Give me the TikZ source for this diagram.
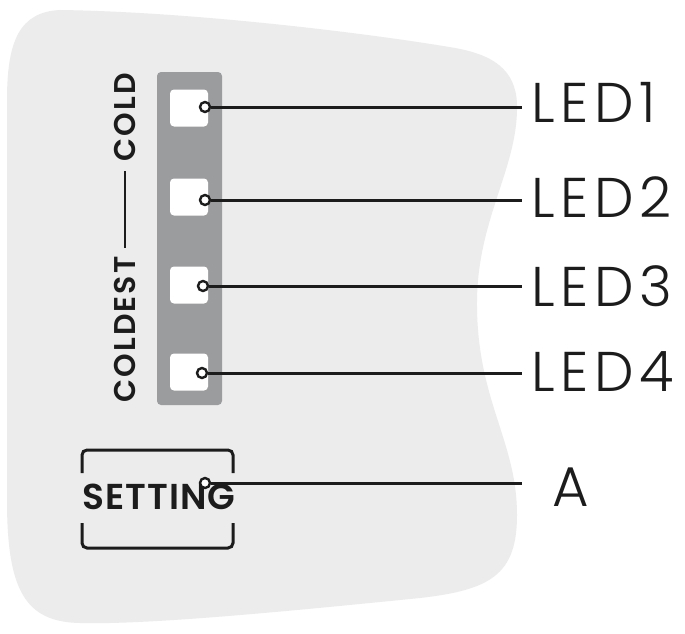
\documentclass[tikz,border=0pt]{standalone}
\usepackage{fontspec}
\setmainfont{Poppins}
\newfontfamily\lightfont{Poppins Light}
\newfontfamily\keyfont{Poppins SemiBold}
\usetikzlibrary{positioning}
\definecolor{panelgray}{RGB}{236,236,236}
\definecolor{stripgray}{RGB}{155,156,158}
\definecolor{inkblack}{RGB}{28,28,28}

\begin{document}
\begin{tikzpicture}[x=1pt, y=-1pt,
  ledsq/.style={fill=white, rounded corners=4pt, minimum width=38pt, minimum height=37pt, inner sep=0pt},
  pin/.style={circle, draw=inkblack, line width=2.4pt, fill=white, minimum size=10pt, inner sep=0pt},
  wire/.style={draw=inkblack, line width=3pt},
  ledtext/.style={font=\lightfont\fontsize{56}{60}\selectfont\addfontfeature{LetterSpace=10}, text=inkblack, inner xsep=9pt, inner ysep=0pt, anchor=west},
  keytext/.style={font=\keyfont\fontsize{30}{34}\selectfont, text=inkblack, inner sep=0pt},
  bracket/.style={draw=inkblack, line width=3pt, rounded corners=5pt}]

% Canvas
\fill[white] (0,0) rectangle (685,634);
\useasboundingbox (0,0) rectangle (685,634);

% Panel outline
\fill[panelgray] (7,100) .. controls (7,40) and (20,12) .. (60,10)
  .. controls (200,12) and (380,35) .. (455,48)
  .. controls (500,56) and (518,75) .. (517,110)
  .. controls (516,170) and (478,220) .. (477,300)
  .. controls (476,400) and (517,440) .. (517,515)
  .. controls (517,575) and (490,590) .. (420,598)
  .. controls (300,610) and (150,625) .. (80,623)
  .. controls (25,622) and (7,590) .. (7,500) -- cycle;

% LED strip
\node[fill=stripgray, rounded corners=4pt, minimum width=65pt, minimum height=333pt] (strip) at (189.5,238.5) {};
\node[ledsq] (sq1) at (189,108) {};
\node[ledsq] (sq2) at (189,197) {};
\node[ledsq] (sq3) at (189,285) {};
\node[ledsq] (sq4) at (189,372) {};

% Scale text
\node[keytext, rotate=90] (scale) at (125,238) {\addfontfeature{LetterSpace=7}COLDEST\hspace{9pt}\rule[10pt]{77pt}{2pt}\hspace{9pt}COLD};

% Setting key
\draw[bracket] (82,473) -- (82,450) -- (233,450) -- (233,473);
\draw[bracket] (82,523) -- (82,548) -- (233,548) -- (233,523);
\node[keytext, font=\keyfont\fontsize{36}{40}\selectfont] (setting) at (159,497) {\addfontfeature{LetterSpace=3}SETTING};

% Pins
\node[pin] (c1) at (205,107) {};
\node[pin] (c2) at (205,200) {};
\node[pin] (c3) at (203,286) {};
\node[pin] (c4) at (202,373) {};
\node[pin] (c5) at (205,483) {};

% Labels
\node[ledtext] (l1) at (522,102) {LED1};
\node[ledtext] (l2) at (522,197) {LED2};
\node[ledtext] (l3) at (522,286) {LED3};
\node[ledtext] (l4) at (522,372) {LED4};
\node[ledtext, inner xsep=30pt] (la) at (522,487) {A};

% Leader lines
\draw[wire] (c1) -- (c1 -| l1.west);
\draw[wire] (c2) -- (c2 -| l2.west);
\draw[wire] (c3) -- (c3 -| l3.west);
\draw[wire] (c4) -- (c4 -| l4.west);
\draw[wire] (c5) -- (c5 -| la.west);

\end{tikzpicture}
\end{document}
